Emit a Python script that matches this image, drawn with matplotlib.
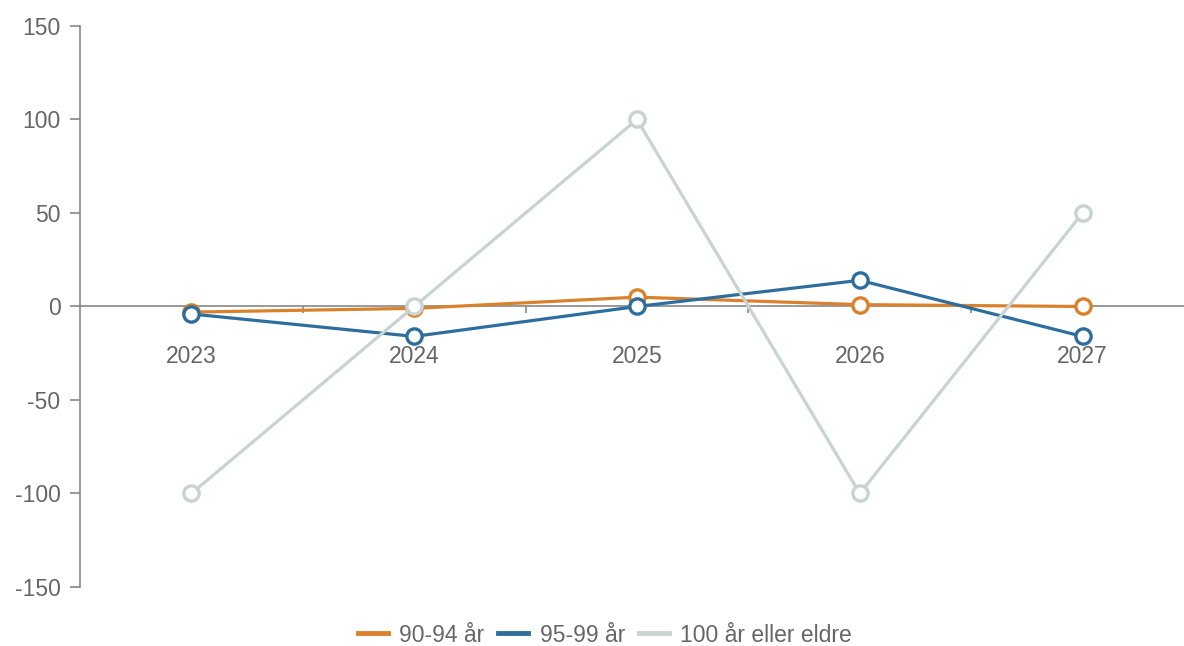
import matplotlib
matplotlib.use("Agg")
import matplotlib.pyplot as plt
import numpy as np

years = ["2023", "2024", "2025", "2026", "2027"]
series_names = ["90-94 år", "95-99 år", "100 år eller eldre"]
s_90_94 = [-3, -1, 5, 1, 0]
s_95_99 = [-4, -16, 0, 14, -16]
s_100 = [-100, 0, 100, -100, 50]
y_ticks = [-150, -100, -50, 0, 50, 100, 150]

colors = ["#d9822b", "#2e6e9e", "#c8d3d3"]

plt.rcParams['font.family'] = ['Liberation Sans', 'DejaVu Sans']

W, H = 1184, 646
fig = plt.figure(figsize=(W / 100, H / 100), dpi=100)
ax = fig.add_axes([80 / W, 1 - 587 / H, (1194 - 80) / W, (587 - 26) / H])

x = np.arange(len(years))
for i, (name, vals) in enumerate(zip(series_names, [s_90_94, s_95_99, s_100])):
    ax.plot(x, vals, color=colors[i], lw=2.3, marker='o', markersize=11,
            markerfacecolor='white', markeredgecolor=colors[i], markeredgewidth=2.4,
            label=name, zorder=3 + i, clip_on=False)

ax.set_xlim(-0.5, len(years) - 0.5)
ax.set_ylim(-150, 150)

for s in ['top', 'right']:
    ax.spines[s].set_visible(False)
ax.spines['left'].set_color('#888888')
ax.spines['left'].set_linewidth(1.2)
ax.spines['bottom'].set_position(('data', 0))
ax.spines['bottom'].set_color('#888888')
ax.spines['bottom'].set_linewidth(1.2)

ax.set_yticks(y_ticks)
ax.set_yticklabels([str(v) for v in y_ticks])
ax.tick_params(axis='y', length=7, width=1.2, color='#888888', labelcolor='#666666',
               labelsize=16.5, pad=7)

ax.set_xticks(x)
ax.set_xticklabels(years)
ax.tick_params(axis='x', which='major', length=0, labelcolor='#666666', labelsize=16.5, pad=28)
ax.set_xticks(np.arange(0.5, len(years) - 1, 1.0), minor=True)
ax.tick_params(axis='x', which='minor', length=5, width=1.2, color='#888888', direction='out')

leg = fig.legend(loc='center', bbox_to_anchor=(605 / W, 1 - 635 / H), ncol=3, frameon=False,
                 fontsize=16.5, handlelength=1.3, handletextpad=0.5, columnspacing=0.6)
for t in leg.get_texts():
    t.set_color('#666666')
for h in leg.legend_handles:
    h.set_linewidth(3.5)
    h.set_marker('')

fig.savefig("out.png", dpi=100)
